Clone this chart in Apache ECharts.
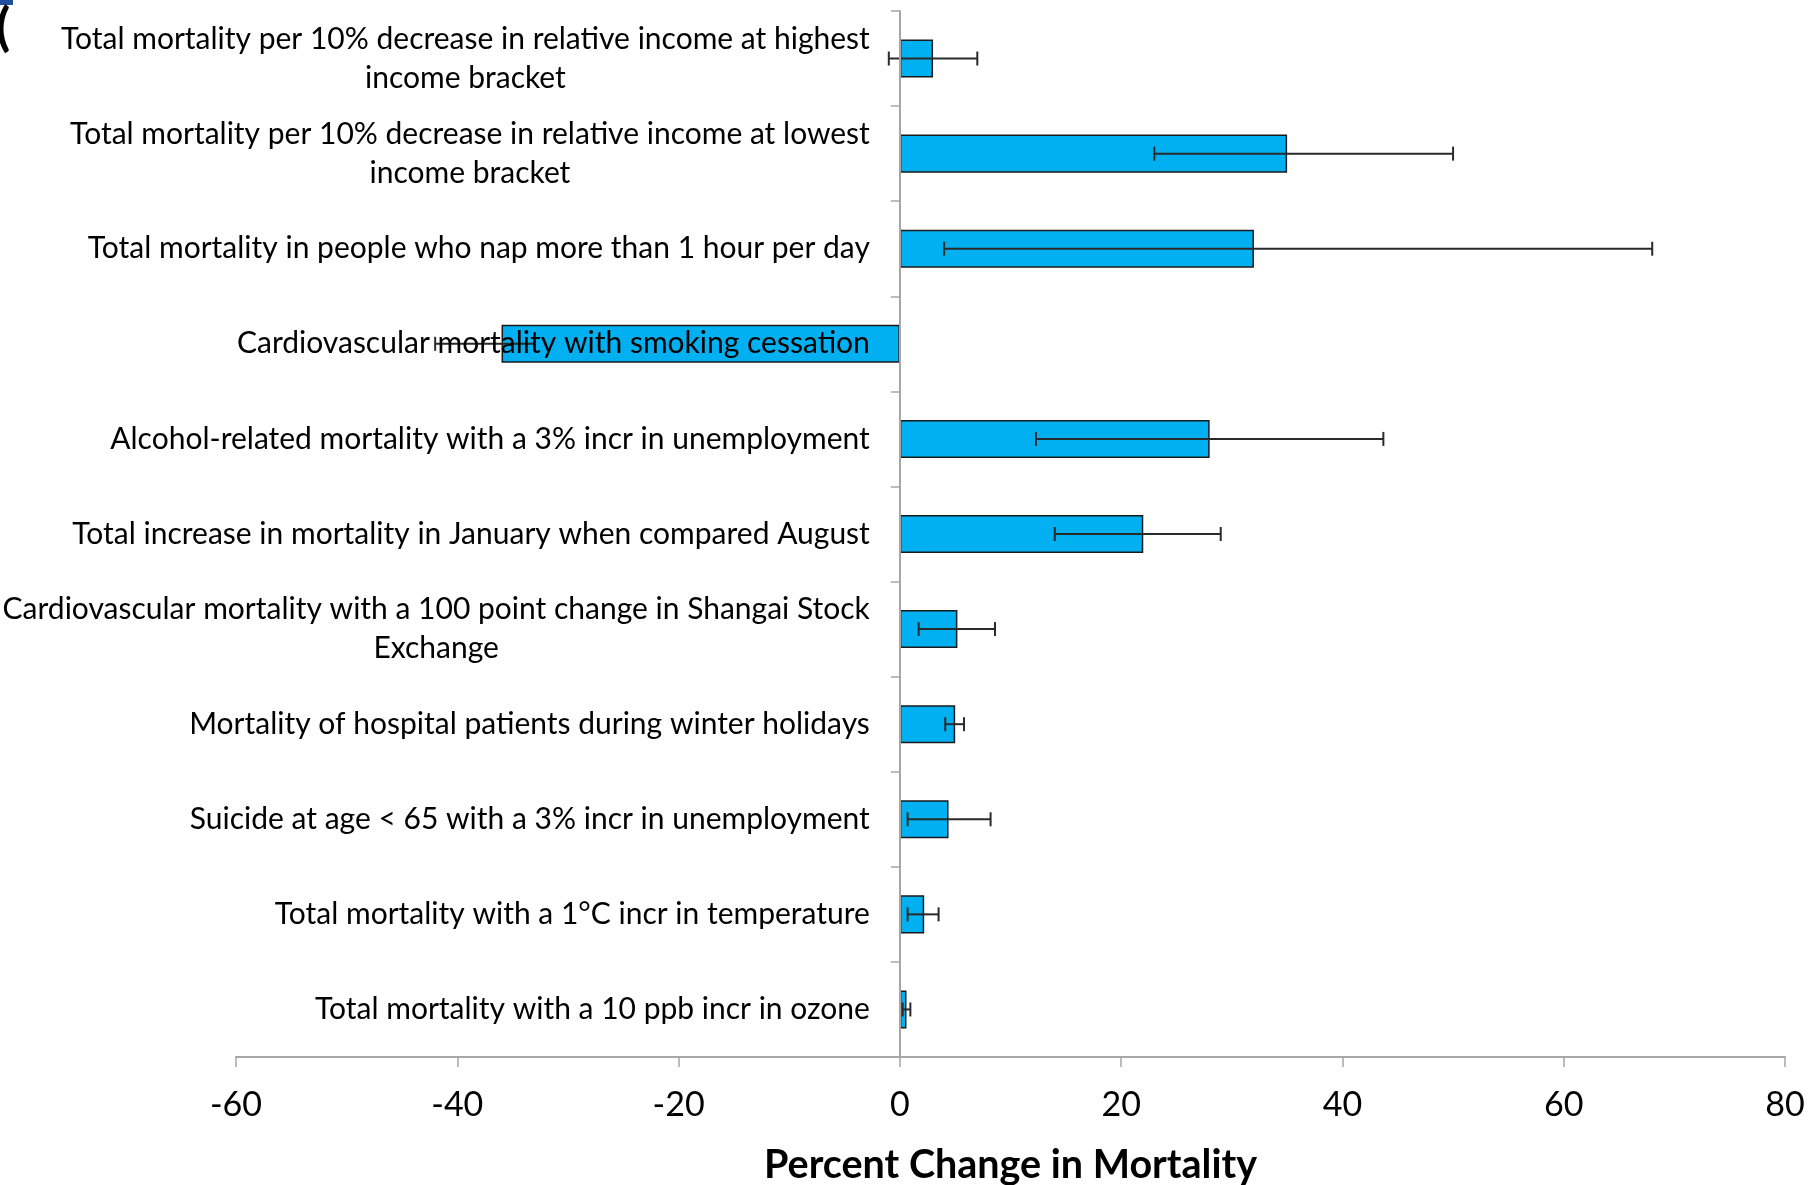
<!DOCTYPE html>
<html>
<head>
<meta charset="utf-8">
<title>Percent Change in Mortality</title>
<script src="https://cdn.jsdelivr.net/npm/echarts@6/dist/echarts.min.js"></script>
<style>
  html, body { margin: 0; padding: 0; background: #ffffff; }
  #chart { width: 1809px; height: 1185px; }
</style>
</head>
<body>
<div id="chart"></div>
<script>
// Outcomes, listed top to bottom
const categories = [
  'Total mortality per 10% decrease in relative income at highest\nincome bracket',
  'Total mortality per 10% decrease in relative income at lowest\nincome bracket',
  'Total mortality in people who nap more than 1 hour per day',
  'Cardiovascular mortality with smoking cessation',
  'Alcohol-related mortality with a 3% incr in unemployment',
  'Total increase in mortality in January when compared August',
  'Cardiovascular mortality with a 100 point change in Shangai Stock\nExchange',
  'Mortality of hospital patients during winter holidays',
  'Suicide at age < 65 with a 3% incr in unemployment',
  'Total mortality with a 1°C incr in temperature',
  'Total mortality with a 10 ppb incr in ozone'
];

// Point estimates (percent change)
const changeValues = [3, 35, 32, -36, 28, 22, 5.2, 5, 4.4, 2.2, 0.6];
// Lower and upper ends of the error bars
const lowerBounds = [-1, 23, 4, -42, 12.3, 14, 1.7, 4.1, 0.7, 0.7, 0.25];
const upperBounds = [7, 50, 68, -33, 43.7, 29, 8.6, 5.8, 8.2, 3.5, 0.95];

// Value axis ticks
const xTicks = [-60, -40, -20, 0, 20, 40, 60, 80];

const FONT = "Lato, 'Liberation Sans', sans-serif";
const GRID_LEFT = 236;

const errorData = categories.map((c, i) => [i, lowerBounds[i], upperBounds[i]]);

const chart = echarts.init(document.getElementById('chart'), null, { renderer: 'canvas' });

chart.setOption({
  backgroundColor: '#ffffff',
  animation: false,
  graphic: [
    {
      type: 'rect',
      left: 0, top: 0,
      shape: { width: 13, height: 5 },
      style: { fill: '#1f4e9a' }
    },
    {
      type: 'text',
      left: -4, top: 2,
      style: { text: '(', font: 'bold 52px ' + FONT, fill: '#000000' }
    }
  ],
  grid: {
    left: GRID_LEFT,
    right: 24,
    top: 11,
    bottom: 128,
    containLabel: false,
    outerBoundsMode: 'none'
  },
  xAxis: {
    type: 'value',
    min: xTicks[0],
    max: xTicks[xTicks.length - 1],
    interval: 20,
    position: 'bottom',
    splitLine: { show: false },
    axisLine: { show: true, onZero: false, lineStyle: { color: '#a6a6a6', width: 2 } },
    axisTick: { show: true, length: 10, lineStyle: { color: '#a6a6a6', width: 1.5 } },
    axisLabel: {
      fontFamily: FONT,
      fontSize: 34,
      color: '#000000',
      margin: 31
    },
    name: 'Percent Change in Mortality',
    nameLocation: 'middle',
    nameGap: 88,
    nameTextStyle: {
      fontFamily: FONT,
      fontSize: 39.5,
      fontWeight: 'bold',
      color: '#000000'
    }
  },
  yAxis: {
    type: 'category',
    data: categories,
    inverse: true,
    z: 10,
    offset: 0,
    axisLine: { show: true, onZero: false, lineStyle: { color: '#a6a6a6', width: 2 } },
    axisTick: { show: true, inside: false, length: 9, lineStyle: { color: '#a6a6a6', width: 1.5 } },
    splitLine: { show: false },
    axisLabel: {
      margin: 30,
      align: 'right',
      color: '#000000',
      formatter: v => v.split('\n').map(s => '{c|' + s + '}').join('\n'),
      rich: {
        c: {
          align: 'center',
          fontFamily: FONT,
          fontSize: 30,
          lineHeight: 39,
          color: '#000000'
        }
      }
    }
  },
  series: [
    {
      type: 'bar',
      data: changeValues,
      barCategoryGap: '60%',
      itemStyle: {
        color: '#00b0f0',
        borderColor: '#1a1a1a',
        borderWidth: 1.5
      },
      z: 2
    },
    {
      type: 'custom',
      data: errorData,
      encode: { x: [1, 2], y: 0 },
      z: 5,
      renderItem: (params, api) => {
        const cat = api.value(0);
        const lo = api.coord([api.value(1), cat]);
        const hi = api.coord([api.value(2), cat]);
        const half = 7;
        const style = { stroke: '#2a2a2a', lineWidth: 2, fill: null };
        return {
          type: 'group',
          children: [
            { type: 'line', shape: { x1: lo[0], y1: lo[1], x2: hi[0], y2: hi[1] }, style },
            { type: 'line', shape: { x1: lo[0], y1: lo[1] - half, x2: lo[0], y2: lo[1] + half }, style },
            { type: 'line', shape: { x1: hi[0], y1: hi[1] - half, x2: hi[0], y2: hi[1] + half }, style }
          ]
        };
      }
    }
  ]
});

// Move the category axis (line, ticks and labels) onto the zero of the value axis
const zeroX = chart.convertToPixel({ xAxisIndex: 0 }, 0);
chart.setOption({ yAxis: { offset: -(zeroX - GRID_LEFT) } });
</script>
</body>
</html>
